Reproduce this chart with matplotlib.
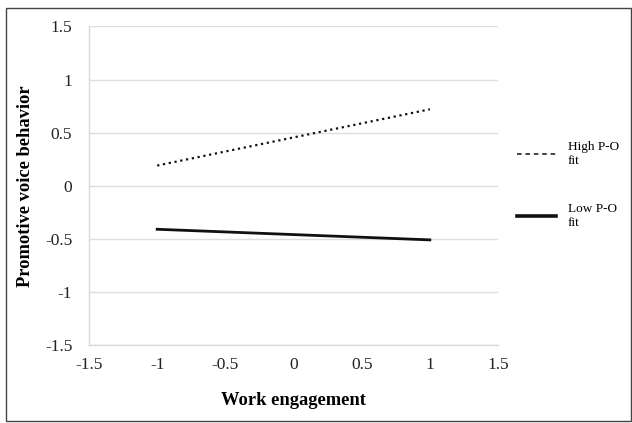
import matplotlib
matplotlib.use("Agg")
import matplotlib.pyplot as plt
from matplotlib.lines import Line2D
from matplotlib.patches import Rectangle

# simple slopes
engagement = [-1, 1]
high_fit = [0.19, 0.72]
low_fit = [-0.41, -0.51]
labels = ["High P-O\nfit", "Low P-O\nfit"]
ticks = [-1.5, -1, -0.5, 0, 0.5, 1, 1.5]
tick_labels = ["-1.5", "-1", "-0.5", "0", "0.5", "1", "1.5"]

plt.rcParams["font.family"] = ["Liberation Serif", "DejaVu Serif"]

fig = plt.figure(figsize=(6.32, 4.23), dpi=100)
ax = fig.add_axes([0.1408, 0.1844, 0.6472, 0.753])

ax.plot(engagement, high_fit, color="#111111", linestyle=":", linewidth=1.6)
ax.plot(engagement, low_fit, color="#111111", linestyle="-", linewidth=2.0)

ax.set_xlim(-1.5, 1.5)
ax.set_ylim(-1.5, 1.5)
ax.set_xticks(ticks)
ax.set_xticklabels(tick_labels)
ax.set_yticks(ticks)
ax.set_yticklabels(tick_labels)
ax.tick_params(length=0, labelsize=12.5, colors="#222222")
ax.tick_params(axis="x", pad=9)
ax.tick_params(axis="y", pad=12)
ax.yaxis.grid(True, color="#dedede", linewidth=1)
ax.set_axisbelow(True)
for s in ["top", "right"]:
    ax.spines[s].set_visible(False)
for s in ["left", "bottom"]:
    ax.spines[s].set_color("#d9d9d9")
    ax.spines[s].set_linewidth(1)

ax.set_xlabel("Work engagement", fontsize=13.3, fontweight="bold", labelpad=13)
ax.set_ylabel("Promotive voice behavior", fontsize=13.3, fontweight="bold", labelpad=8)

# Excel-style legend: dashed sample for the dotted series
handles = [Line2D([0], [0], color="#111111", linewidth=1.1, dashes=(3, 2.5)),
           Line2D([0], [0], color="#111111", linewidth=2.6)]
fig.legend(handles, labels, loc="upper left", bbox_to_anchor=(0.80, 0.695),
           frameon=False, fontsize=9.5, handlelength=2.9, handletextpad=0.9,
           labelspacing=2.75)

fig.patches.append(Rectangle((0.009, 0.004), 0.989, 0.977, transform=fig.transFigure,
                             fill=False, edgecolor="#444444", linewidth=1))

plt.savefig("out.png", dpi=100)
